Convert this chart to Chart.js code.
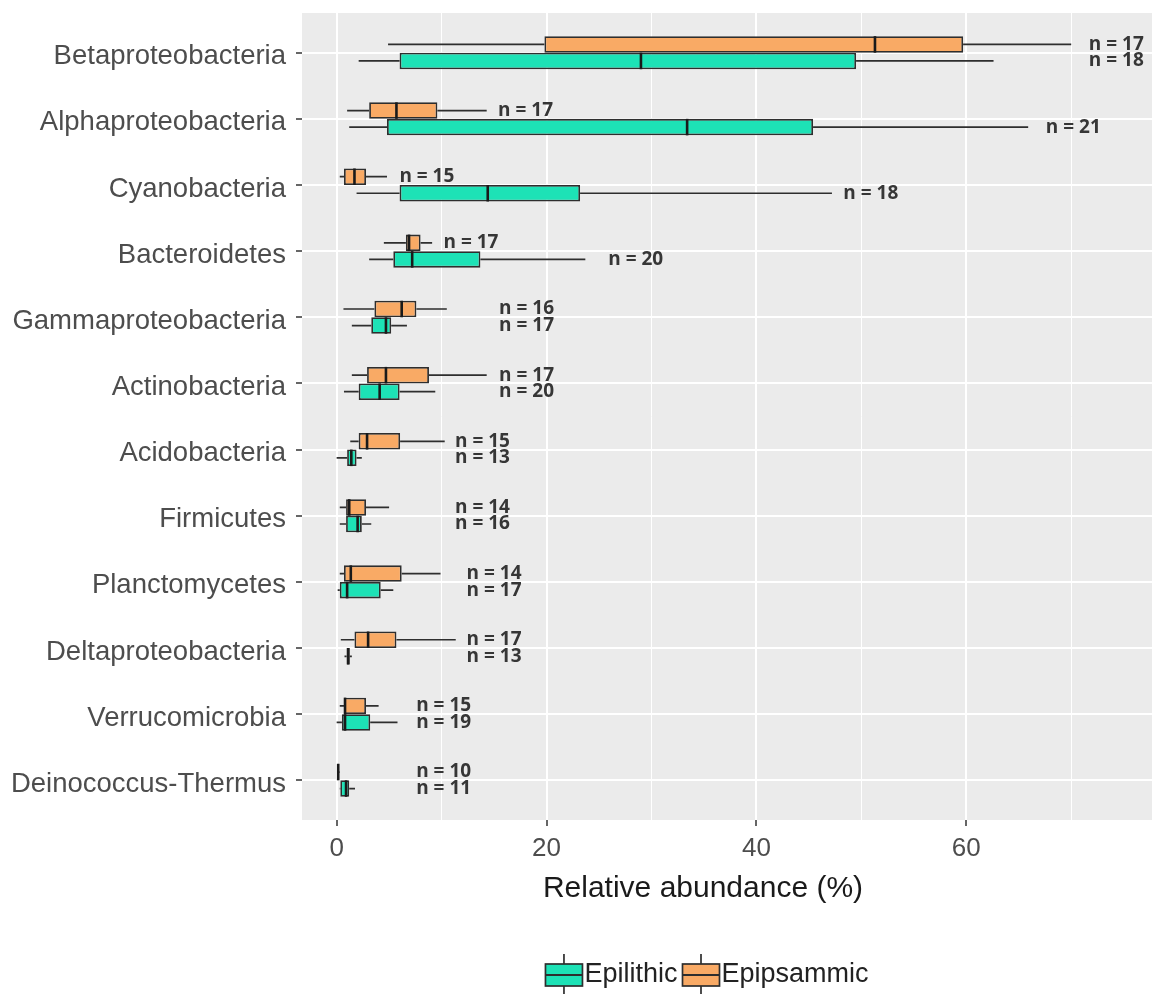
<!DOCTYPE html>
<html>
<head>
<meta charset="utf-8">
<title>Relative abundance by phylum</title>
<script src="https://cdn.jsdelivr.net/npm/chart.js@4.4.1/dist/chart.umd.min.js"></script>
<style>
  html, body { margin: 0; padding: 0; background: #ffffff; }
  canvas { display: block; }
</style>
</head>
<body>
<canvas id="chart" width="1152" height="994"></canvas>
<script>
// Phyla, top to bottom
const categories = [
  'Betaproteobacteria', 'Alphaproteobacteria', 'Cyanobacteria', 'Bacteroidetes',
  'Gammaproteobacteria', 'Actinobacteria', 'Acidobacteria', 'Firmicutes',
  'Planctomycetes', 'Deltaproteobacteria', 'Verrucomicrobia', 'Deinococcus-Thermus'
];

// Epipsammic biofilms: whisker ends, hinges and median (% relative abundance)
const epipsammicLow  = [4.9, 1.0, 0.3, 4.5, 0.65, 1.45, 1.3, 0.3, 0.3, 0.4, 0.3, 0.05];
const epipsammicQ1   = [19.8, 3.1, 0.7, 6.6, 3.6, 2.9, 2.1, 0.9, 0.7, 1.7, 0.7, 0.1];
const epipsammicMed  = [51.3, 5.7, 1.7, 6.9, 6.2, 4.7, 2.9, 1.2, 1.35, 3.0, 0.8, 0.15];
const epipsammicQ3   = [59.7, 9.6, 2.8, 8.0, 7.6, 8.8, 6.05, 2.8, 6.2, 5.7, 2.8, 0.25];
const epipsammicHigh = [70.0, 14.3, 4.8, 9.1, 10.5, 14.3, 10.3, 5.0, 9.9, 11.35, 4.0, 0.3];
const epipsammicN    = [17, 17, 15, 17, 16, 17, 15, 14, 14, 17, 15, 10];

// Epilithic biofilms
const epilithicLow  = [2.1, 1.2, 1.9, 3.1, 1.45, 0.7, 0.0, 0.3, 0.1, 0.75, 0.0, 0.3];
const epilithicQ1   = [6.0, 4.8, 6.0, 5.4, 3.3, 2.1, 1.0, 0.9, 0.3, 0.95, 0.5, 0.35];
const epilithicMed  = [29.0, 33.4, 14.4, 7.2, 4.7, 4.1, 1.4, 2.0, 1.0, 1.1, 0.8, 0.9];
const epilithicQ3   = [49.5, 45.4, 23.2, 13.7, 5.2, 6.0, 1.9, 2.4, 4.2, 1.25, 3.2, 1.2];
const epilithicHigh = [62.6, 65.9, 47.2, 23.7, 6.7, 9.4, 2.4, 3.3, 5.4, 1.45, 5.8, 1.75];
const epilithicN    = [18, 21, 18, 20, 17, 20, 13, 16, 17, 13, 19, 11];

// Where the sample-size annotations sit along the abundance axis (%)
const epipsammicNAt = [74.3, 18.0, 8.6, 12.8, 18.1, 18.1, 13.9, 13.9, 15.0, 15.0, 10.2, 10.2];
const epilithicNAt  = [74.3, 70.2, 50.9, 28.5, 18.1, 18.1, 13.9, 13.9, 15.0, 15.0, 10.2, 10.2];

// Axis ticks: labelled majors and unlabelled minors
const xMajorTicks = [0, 20, 40, 60];
const xMinorTicks = [10, 30, 50, 70];

const COLOR_EPIPSAMMIC = '#F9AA65';
const COLOR_EPILITHIC = '#1DE2B6';
const OUTLINE = '#2e2e2e';

const groups = [
  { name: 'Epipsammic', color: COLOR_EPIPSAMMIC, low: epipsammicLow, q1: epipsammicQ1, med: epipsammicMed, q3: epipsammicQ3, high: epipsammicHigh, n: epipsammicN, nAt: epipsammicNAt },
  { name: 'Epilithic',  color: COLOR_EPILITHIC,  low: epilithicLow,  q1: epilithicQ1,  med: epilithicMed,  q3: epilithicQ3,  high: epilithicHigh,  n: epilithicN,  nAt: epilithicNAt }
];

// Whiskers, medians, sample sizes, axis title and legend keys
const boxplotParts = {
  id: 'boxplotParts',
  beforeDraw(chart) {
    const { ctx, chartArea: a } = chart;
    ctx.save();
    ctx.fillStyle = '#ffffff';
    ctx.fillRect(0, 0, chart.width, chart.height);
    ctx.fillStyle = '#EBEBEB';
    ctx.fillRect(a.left, a.top, a.right - a.left, a.bottom - a.top);
    ctx.restore();
  },
  beforeDatasetsDraw(chart) {
    const { ctx, chartArea: a } = chart;
    const xs = chart.scales.x;
    ctx.save();
    ctx.beginPath();
    ctx.rect(a.left, a.top, a.right - a.left, a.bottom - a.top);
    ctx.clip();
    ctx.strokeStyle = OUTLINE;
    ctx.lineWidth = 1.7;
    groups.forEach((g, di) => {
      chart.getDatasetMeta(di).data.forEach((bar, i) => {
        const y = bar.y;
        ctx.beginPath();
        ctx.moveTo(xs.getPixelForValue(g.low[i]), y);
        ctx.lineTo(xs.getPixelForValue(g.q1[i]), y);
        ctx.moveTo(xs.getPixelForValue(g.q3[i]), y);
        ctx.lineTo(xs.getPixelForValue(g.high[i]), y);
        ctx.stroke();
      });
    });
    ctx.restore();
  },
  afterDatasetsDraw(chart) {
    const { ctx } = chart;
    const xs = chart.scales.x;
    ctx.save();
    groups.forEach((g, di) => {
      chart.getDatasetMeta(di).data.forEach((bar, i) => {
        const h = bar.height;
        const xm = xs.getPixelForValue(g.med[i]);
        ctx.strokeStyle = '#1a1a1a';
        ctx.lineWidth = 2.6;
        ctx.beginPath();
        ctx.moveTo(xm, bar.y - h / 2);
        ctx.lineTo(xm, bar.y + h / 2);
        ctx.stroke();

        ctx.fillStyle = '#363636';
        ctx.font = 'bold 19px "Open Sans", "DejaVu Sans", sans-serif';
        ctx.textAlign = 'center';
        ctx.textBaseline = 'middle';
        ctx.fillText('n = ' + g.n[i], xs.getPixelForValue(g.nAt[i]), bar.y);
      });
    });
    ctx.restore();
  },
  afterDraw(chart) {
    const { ctx } = chart;
    ctx.save();
    // x-axis title
    ctx.fillStyle = '#1a1a1a';
    ctx.font = '30px "Liberation Sans", Arial, sans-serif';
    ctx.textAlign = 'center';
    ctx.textBaseline = 'middle';
    ctx.fillText('Relative abundance (%)', 703, 889);

    // legend: Epilithic then Epipsammic, each with a boxplot key
    const order = [groups[1], groups[0]];
    ctx.font = '27px "Liberation Sans", Arial, sans-serif';
    const keyW = 37, keyH = 22, gapAfterKey = 2, gapAfterText = 5;
    let total = 0;
    order.forEach((g, k) => {
      total += keyW + gapAfterKey + ctx.measureText(g.name).width + (k < order.length - 1 ? gapAfterText : 0);
    });
    let x = 707 - total / 2;
    const cy = 975;
    order.forEach(g => {
      const top = cy - keyH / 2;
      ctx.strokeStyle = OUTLINE;
      ctx.lineWidth = 1.7;
      ctx.beginPath();
      ctx.moveTo(x + keyW / 2, cy - 21);
      ctx.lineTo(x + keyW / 2, cy + 21);
      ctx.stroke();
      ctx.fillStyle = g.color;
      ctx.fillRect(x, top, keyW, keyH);
      ctx.strokeRect(x, top, keyW, keyH);
      ctx.lineWidth = 2.2;
      ctx.beginPath();
      ctx.moveTo(x, cy);
      ctx.lineTo(x + keyW, cy);
      ctx.stroke();
      x += keyW + gapAfterKey;
      ctx.fillStyle = '#222222';
      ctx.textAlign = 'left';
      ctx.textBaseline = 'middle';
      ctx.fillText(g.name, x, cy);
      x += ctx.measureText(g.name).width + gapAfterText;
    });
    ctx.restore();
  }
};

const datasets = groups.map(g => ({
  label: g.name,
  data: categories.map((c, i) => ({ y: i, x: [g.q1[i], g.q3[i]] })),
  backgroundColor: g.color,
  borderColor: OUTLINE,
  borderWidth: 1.8,
  borderSkipped: false,
  categoryPercentage: 0.5,
  barPercentage: 1.0
}));

new Chart(document.getElementById('chart'), {
  type: 'bar',
  data: { datasets },
  options: {
    indexAxis: 'y',
    responsive: false,
    animation: false,
    events: [],
    layout: { padding: { top: 13, right: 0, bottom: 0, left: 0 } },
    plugins: { legend: { display: false }, tooltip: { enabled: false } },
    scales: {
      y: {
        type: 'linear',
        reverse: true,
        offset: false,
        min: -0.6,
        max: 11.6,
        afterBuildTicks: s => { s.ticks = categories.map((c, i) => ({ value: i })); },
        afterFit: s => { s.width = 302; s.paddingTop = 0; s.paddingBottom = 0; },
        ticks: {
          callback: v => categories[v],
          color: '#4d4d4d',
          font: { family: '"Liberation Sans", Arial, sans-serif', size: 27.5, lineHeight: 0.8 },
          padding: 10,
          labelOffset: 4
        },
        grid: { offset: false, color: '#ffffff', lineWidth: 2, tickColor: '#333333', tickLength: 6, tickWidth: 1.5 },
        border: { display: false }
      },
      x: {
        type: 'linear',
        min: -3.3,
        max: 77.7,
        afterBuildTicks: s => {
          s.ticks = xMajorTicks.concat(xMinorTicks).sort((a, b) => a - b).map(v => ({ value: v }));
        },
        afterFit: s => { s.height = 174; },
        ticks: {
          callback: v => (xMajorTicks.includes(v) ? String(v) : ''),
          color: '#4d4d4d',
          font: { family: '"Liberation Sans", Arial, sans-serif', size: 26 },
          padding: 7,
          maxRotation: 0,
          autoSkip: false
        },
        grid: {
          color: '#ffffff',
          lineWidth: c => (xMajorTicks.includes(c.tick && c.tick.value) ? 2 : 1),
          tickColor: c => (xMajorTicks.includes(c.tick && c.tick.value) ? '#333333' : 'rgba(0,0,0,0)'),
          tickLength: 6,
          tickWidth: 1.5
        },
        border: { display: false }
      }
    }
  },
  plugins: [boxplotParts]
});
</script>
</body>
</html>
